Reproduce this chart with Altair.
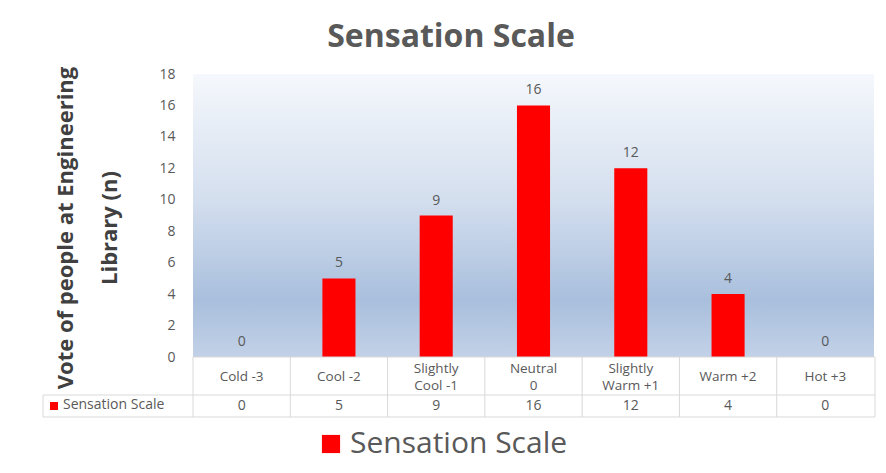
import altair as alt
import pandas as pd

# ---------------- data ----------------
categories = ["Cold -3", "Cool -2", "Slightly\nCool -1", "Neutral\n0",
              "Slightly\nWarm +1", "Warm +2", "Hot +3"]
votes = [0, 5, 9, 16, 12, 4, 0]
series_name = "Sensation Scale"
chart_title = "Sensation Scale"
y_title = ["Vote of people at Engineering", "Library (n)"]
y_ticks = [0, 2, 4, 6, 8, 10, 12, 14, 16, 18]

df = pd.DataFrame({"cat": categories, "votes": votes, "series": series_name})

W, H = 681, 283
FONT = "Open Sans"
GREY = "#595959"
LINE = "#d9d9d9"
SMALL = 14

xenc = alt.X("cat:N", sort=categories, axis=None,
             scale=alt.Scale(paddingInner=0, paddingOuter=0))
yenc = alt.Y("votes:Q", scale=alt.Scale(domain=[0, 18], nice=False, zero=True),
             axis=alt.Axis(values=y_ticks, tickCount=10, title=None, domain=False,
                           ticks=False, grid=False, labelFont=FONT,
                           labelFontSize=SMALL, labelColor=GREY, labelPadding=18,
                           labelOverlap=False, labelFlush=False))

one = pd.DataFrame({"k": [0]})

# outer frame
frame = alt.Chart(one).mark_rect(fill=None, stroke=LINE, strokeWidth=1.5).encode(
    x=alt.value(-186), x2=alt.value(W + 60), y=alt.value(-67), y2=alt.value(H + 170)
)

# gradient plot-area background
bg = alt.Chart(one).mark_rect(
    fill=alt.LinearGradient(
        gradient="linear", x1=0, y1=0, x2=0, y2=1,
        stops=[alt.GradientStop(offset=0, color="#f5f8fc"),
               alt.GradientStop(offset=0.45, color="#d3deee"),
               alt.GradientStop(offset=0.8, color="#a9bfdd"),
               alt.GradientStop(offset=1, color="#c2d1e7")]),
    strokeWidth=0,
).encode(x=alt.value(0), x2=alt.value(W), y=alt.value(0), y2=alt.value(H))

bars = alt.Chart(df).mark_bar(width=alt.RelativeBandSize(0.34)).encode(
    x=xenc,
    y=yenc,
    color=alt.Color("series:N",
                    scale=alt.Scale(domain=[series_name], range=["#ff0000"]),
                    legend=alt.Legend(orient="none", legendX=123, legendY=355,
                                      direction="horizontal", title=None,
                                      symbolType="square", symbolSize=330,
                                      symbolStrokeWidth=0, labelFont=FONT,
                                      labelFontSize=30, labelColor=GREY,
                                      labelOffset=4, labelLimit=0)),
)

labels = alt.Chart(df).mark_text(font=FONT, fontSize=SMALL, color=GREY,
                                 baseline="middle", dy=-15).encode(
    x=xenc, y=yenc, text="votes:Q"
)

# data table: header row (one- and two-line category names)
hdr1 = alt.Chart(df).transform_filter(
    "indexof(datum.cat, '\\n') < 0"
).mark_text(font=FONT, fontSize=SMALL - 0.5, color=GREY,
            baseline="middle").encode(
    x=xenc, y=alt.value(H + 20), text="cat:N"
)
hdr2 = alt.Chart(df).transform_filter(
    "indexof(datum.cat, '\\n') >= 0"
).mark_text(font=FONT, fontSize=SMALL - 0.5, color=GREY, lineBreak="\n",
            lineHeight=17, baseline="middle").encode(
    x=xenc, y=alt.value(H + 11.5), text="cat:N"
)
vals = alt.Chart(df).mark_text(font=FONT, fontSize=SMALL, color=GREY,
                               baseline="middle").encode(
    x=xenc, y=alt.value(H + 49), text="votes:Q"
)
vlines = alt.Chart(df).mark_rule(color=LINE, strokeWidth=1).encode(
    x=alt.X("cat:N", sort=categories, axis=None, bandPosition=0,
            scale=alt.Scale(paddingInner=0, paddingOuter=0)),
    y=alt.value(H), y2=alt.value(H + 60)
)
vlast = alt.Chart(one).mark_rule(color=LINE).encode(
    x=alt.value(W + 1), y=alt.value(H), y2=alt.value(H + 60))
vleft = alt.Chart(one).mark_rule(color=LINE).encode(
    x=alt.value(-150), y=alt.value(H + 38), y2=alt.value(H + 60))
h0 = alt.Chart(one).mark_rule(color=LINE).encode(
    x=alt.value(0), x2=alt.value(W + 1), y=alt.value(H))
h1 = alt.Chart(one).mark_rule(color=LINE).encode(
    x=alt.value(-150), x2=alt.value(W + 1), y=alt.value(H + 38))
h2 = alt.Chart(one).mark_rule(color=LINE).encode(
    x=alt.value(-150), x2=alt.value(W + 1), y=alt.value(H + 60))

key_df = pd.DataFrame({"series": [series_name]})
key_sq = alt.Chart(key_df).mark_square(size=64, fill="#ff0000", opacity=1).encode(
    x=alt.value(-139), y=alt.value(H + 49))
key_txt = alt.Chart(key_df).mark_text(font=FONT, fontSize=SMALL, color=GREY,
                                      align="left", baseline="middle").encode(
    x=alt.value(-130), y=alt.value(H + 48), text="series:N")

title = alt.Chart(pd.DataFrame({"t": [chart_title]})).mark_text(
    font=FONT, fontSize=32, fontWeight="bold", color=GREY, baseline="middle"
).encode(x=alt.value(258), y=alt.value(-37), text="t:N")

ytitle = alt.Chart(pd.DataFrame({"t": [y_title]})).mark_text(
    font=FONT, fontSize=22, fontWeight="bold", color="#404040", angle=270,
    baseline="middle", lineHeight=44
).encode(x=alt.value(-127), y=alt.value(154), text="t")

chart = alt.layer(
    frame, bg, bars, labels, vlines, vlast, vleft, h0, h1, h2,
    hdr1, hdr2, vals, key_sq, key_txt, title, ytitle
).properties(
    width=W, height=H,
    autosize=alt.AutoSizeParams(type="none"),
    padding={"left": 185, "top": 66, "right": 4, "bottom": 106},
    background="white",
).configure_view(stroke=None)

chart.save("out.html", embed_options={"renderer": "svg", "actions": False})
